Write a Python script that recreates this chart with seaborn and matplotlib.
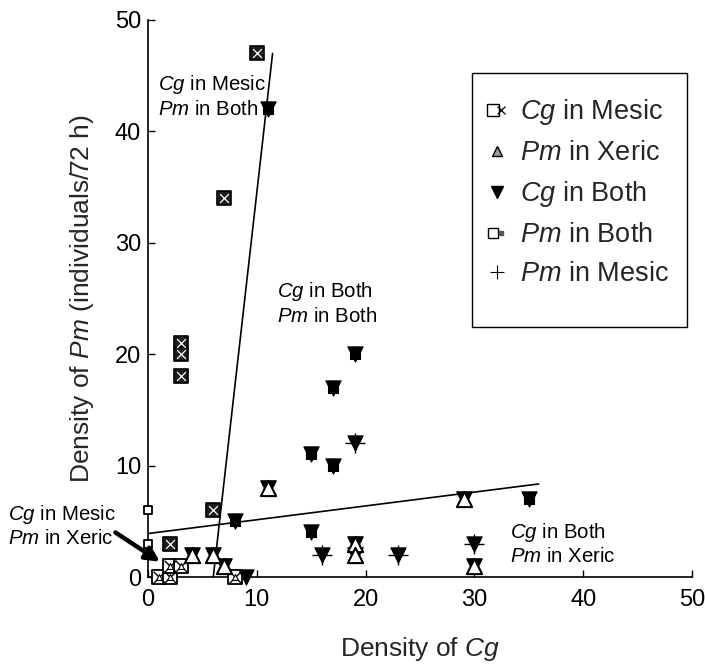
import numpy as np
import pandas as pd
import matplotlib
matplotlib.use("Agg")
import matplotlib.pyplot as plt
import seaborn as sns
from matplotlib.lines import Line2D
from matplotlib.patches import Rectangle
from matplotlib.legend_handler import HandlerTuple

sns.set_theme(style="ticks")
plt.rcParams["font.family"] = ["Liberation Sans", "DejaVu Sans"]
plt.rcParams["mathtext.fontset"] = "custom"
plt.rcParams["mathtext.it"] = "Liberation Sans:italic"
plt.rcParams["mathtext.rm"] = "Liberation Sans"

# Station densities (individuals / 72 h) and habitat use of each species
cg_density = [0, 0, 3, 3, 3, 2, 6, 7, 10,
              1, 2, 2, 3, 8,
              4, 6, 7, 11, 19, 19, 29, 30,
              8, 11, 15, 17, 17, 19, 15, 35,
              19, 16, 23, 30,
              9]
pm_density = [6, 3, 21, 20, 18, 3, 6, 34, 47,
              0, 0, 1, 1, 0,
              2, 2, 1, 8, 3, 2, 7, 1,
              5, 42, 11, 10, 17, 20, 4, 7,
              12, 2, 2, 3,
              0]
cg_habitat = (["None"] * 2 + ["Mesic"] * 7 + ["Mesic"] * 5 + ["Both"] * 8
              + ["Both"] * 8 + ["Both"] * 4 + ["Both"])
pm_habitat = (["Both"] * 2 + ["Both"] * 7 + ["Xeric"] * 5 + ["Xeric"] * 8
              + ["Both"] * 8 + ["Mesic"] * 4 + ["None"])

# Fitted regression lines: intercept, slope, x range
fit_intercept = [-51.7, 3.9]
fit_slope = [8.62, 0.124]
fit_x_start = [6.0, 0.0]
fit_x_end = [11.45, 35.9]

legend_labels = [r"$\it{Cg}$ in Mesic", r"$\it{Pm}$ in Xeric", r"$\it{Cg}$ in Both",
                 r"$\it{Pm}$ in Both", r"$\it{Pm}$ in Mesic"]

df = pd.DataFrame({"cg": cg_density, "pm": pm_density,
                   "cg_hab": cg_habitat, "pm_hab": pm_habitat})

W, H = 705, 664
fig = plt.figure(figsize=(W / 100, H / 100), dpi=100)
ax = fig.add_axes([148 / W, 1 - 577 / H, 544 / W, 557 / H])


def px_to_axes(px, py):
    """Figure pixel position (from top-left) to axes fraction."""
    return (px - 148) / 544, (577 - py) / 557


def layer(sub, marker, s, fc, ec="black", lw=1.0, z=3):
    sns.scatterplot(data=sub, x="cg", y="pm", marker=marker, s=s, color=fc,
                    edgecolor=ec, linewidth=lw, ax=ax, zorder=z,
                    clip_on=False, legend=False)


def combo(cg, pm):
    return df[(df.cg_hab == cg) & (df.pm_hab == pm)]


# regression lines
for b0, b1, x0, x1 in zip(fit_intercept, fit_slope, fit_x_start, fit_x_end):
    xs = np.array([x0, x1])
    sns.lineplot(x=xs, y=b0 + b1 * xs, color="black", lw=1.2, ax=ax,
                 zorder=2, legend=False)

# Pm in Both only
layer(combo("None", "Both"), "s", 40, "white", lw=1.3)
# Cg in Mesic / Pm in Both
sub = combo("Mesic", "Both")
layer(sub, "s", 100, "#1c1c1c", lw=1.2)
layer(sub, "x", 40, "white", lw=0.9, z=4)
# Cg in Mesic / Pm in Xeric
sub = combo("Mesic", "Xeric")
layer(sub, "s", 100, "white", lw=1.3)
layer(sub, "x", 70, "black", lw=1.0, z=4)
layer(sub, "^", 18, "white", lw=0.8, z=5)
# Cg in Both / Pm in Xeric
sub = combo("Both", "Xeric")
layer(sub, "v", 120, "black", lw=1.0)
layer(sub, "^", 120, "white", lw=1.5, z=4)
# Cg in Both / Pm in Both
sub = combo("Both", "Both")
layer(sub, "v", 120, "black", lw=0.8)
layer(sub, "s", 55, "black", lw=0.8, z=4)
# Cg in Both / Pm in Mesic
sub = combo("Both", "Mesic")
layer(sub, "v", 120, "black", lw=0.8)
layer(sub, "+", 220, "black", lw=1.0, z=4)
# Cg in Both only
layer(combo("Both", "None"), "v", 120, "black", lw=0.8)

ax.set_xlim(0, 50)
ax.set_ylim(0, 50)
ax.set_xticks([0, 10, 20, 30, 40, 50])
ax.set_yticks([0, 10, 20, 30, 40, 50])
ax.tick_params(direction="in", length=5, width=1.0, labelsize=17,
               colors="black")
ax.tick_params(axis="x", pad=9)
ax.tick_params(axis="y", pad=5)
for side in ("top", "right"):
    ax.spines[side].set_visible(False)
for side in ("left", "bottom"):
    ax.spines[side].set_linewidth(1.2)
    ax.spines[side].set_color("black")
ax.set_xlabel(r"Density of $\it{Cg}$", fontsize=19)
ax.set_ylabel(r"Density of $\it{Pm}$ (individuals/72 h)", fontsize=19)
ax.xaxis.set_label_coords(0.5, px_to_axes(0, 649)[1])
ax.yaxis.set_label_coords(px_to_axes(82, 0)[0], 0.5)
ax.xaxis.label.set_va("center")
ax.yaxis.label.set_va("center")

# region labels
tk = dict(fontsize=14.7, ha="left", va="center", color="black")
ax.text(0.9, 44.2, r"$\it{Cg}$ in Mesic", **tk)
ax.text(0.9, 42.0, r"$\it{Pm}$ in Both", **tk)
ax.text(11.85, 25.6, r"$\it{Cg}$ in Both", **tk)
ax.text(11.85, 23.4, r"$\it{Pm}$ in Both", **tk)
ax.text(33.3, 3.95, r"$\it{Cg}$ in Both", **tk)
ax.text(33.3, 1.8, r"$\it{Pm}$ in Xeric", **tk)
ax.text(-12.9, 5.6, r"$\it{Cg}$ in Mesic", clip_on=False, **tk)
ax.text(-12.9, 3.5, r"$\it{Pm}$ in Xeric", clip_on=False, **tk)
ax.annotate("", xy=(1.1, 1.37), xytext=(-3.0, 4.0),
            arrowprops=dict(arrowstyle="-|>,head_length=0.7,head_width=0.35",
                            lw=3.2, color="black", shrinkA=0, shrinkB=0),
            annotation_clip=False)

# legend
h_mesic = (Line2D([], [], ls="none", marker="s", ms=8, mfc="white", mec="black", mew=1.0),
           Line2D([], [], ls="none", marker="x", ms=6, color="black", mew=0.9))
h_xeric = Line2D([], [], ls="none", marker="^", ms=7, mfc="#9a9a9a", mec="black", mew=1.0)
h_both_cg = Line2D([], [], ls="none", marker="v", ms=8, color="black")
h_both_pm = (Line2D([], [], ls="none", marker="s", ms=7, mfc="white", mec="black", mew=1.0),
             Line2D([], [], ls="none", marker="s", ms=2.5, color="#555555"))
h_mesic_pm = Line2D([], [], ls="none", marker="+", ms=10, color="black", mew=0.8)
ax.legend([h_mesic, h_xeric, h_both_cg, h_both_pm, h_mesic_pm], legend_labels,
          handler_map={tuple: HandlerTuple(ndivide=None, pad=0)},
          loc="upper left", bbox_to_anchor=px_to_axes(489, 97),
          fontsize=19.5, frameon=False,
          handlelength=0.6, handletextpad=0.55, labelspacing=0.48,
          borderpad=0, borderaxespad=0)

# legend frame
bx0, by0 = px_to_axes(472, 327)
bx1, by1 = px_to_axes(687, 73)
ax.add_patch(Rectangle((bx0, by0), bx1 - bx0, by1 - by0, transform=ax.transAxes,
                       fill=False, edgecolor="black", lw=1.0, clip_on=False, zorder=5))

fig.savefig("out.png", dpi=100)
